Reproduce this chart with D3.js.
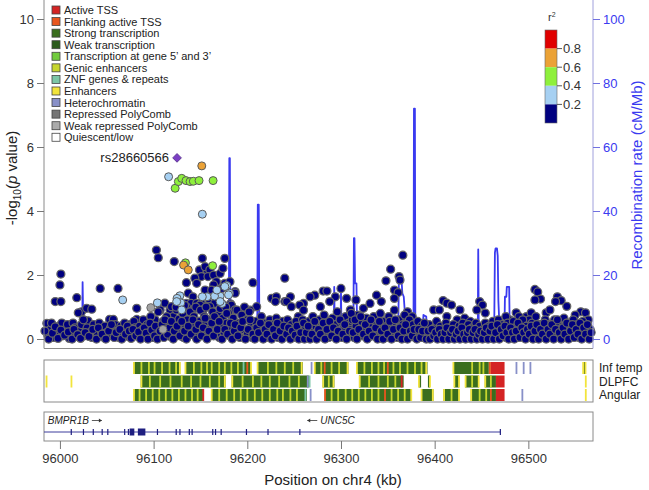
<!DOCTYPE html>
<html><head><meta charset="utf-8">
<script src="https://cdn.jsdelivr.net/npm/d3@7"></script>
<style>body{margin:0;background:#fff}svg{display:block;font-family:"Liberation Sans",Arial,sans-serif}</style>
</head><body><svg id="c" width="649" height="490"></svg>
<script>
// ---------------- DATA ----------------
const yTicks = [0, 2, 4, 6, 8, 10];
const recombTicks = [0, 20, 40, 60, 80, 100];
const xTicks = [96000, 96100, 96200, 96300, 96400, 96500];
const r2Labels = ["0.8", "0.6", "0.4", "0.2"];
const r2Colors = ["#e00000", "#eba236", "#8ef03c", "#a6d0f2", "#000080"]; // 0.8-1, 0.6-0.8, 0.4-0.6, 0.2-0.4, <0.2

const stateNames = ["Active TSS", "Flanking active TSS", "Strong transcription", "Weak transcription",
  "Transcription at gene 5\u2019 and 3\u2019", "Genic enhancers", "ZNF genes & repeats", "Enhancers",
  "Heterochromatin", "Repressed PolyComb", "Weak repressed PolyComb", "Quiescent/low"];
const stateKeys = ["TssA", "TssFlnk", "Tx", "TxWk", "TxFlnk", "EnhG", "ZNF", "Enh", "Het", "ReprPC", "ReprPCWk", "Quies"];
const stateColors = ["#d42424", "#e8561e", "#3a6e1e", "#2b5a1c", "#72cc3e", "#c6d62e", "#7cc6a6", "#f2e43c", "#8890c8", "#767676", "#ababab", "#ffffff"];

const leadSnp = { name: "rs28660566", pos: 96125, logp: 5.66 };
const snpOrange = [[96151.4, 5.41], [96132, 2.31], [96137, 2.16]];
const snpGreen = [[96123, 4.71], [96126.4, 4.92], [96130, 5.02], [96134.6, 4.95], [96138.9, 4.92], [96142.4, 4.93],
  [96148.5, 4.95], [96163.5, 4.95], [96134, 2.38], [96163, 2.29]];
const snpLightBlue = [[96116, 5.07], [96152, 3.9], [96178, 1.67], [96181, 1.43], [96171, 1.34], [96165, 1.34],
  [96157, 1.32], [96152, 1.32], [96128, 1.35], [96125, 1.27], [96129, 1.13], [96130, 0.91], [96104, 1.13],
  [96173, 1.11], [96067, 1.22], [96176, 1.64], [96167.5, 1.53], [96171, 1.17], [96124.6, 1.17], [96180, 1.38]];
const snpGray = [[96097, 0.98], [96110, 0.3]];
const snpNavy = [
  // upper scattered
  [96001, 2.03], [96000, 1.69], [95995, 1.17], [96001, 1.17], [96018, 1.29], [96043, 1.58], [96062, 1.58],
  [96103, 2.78], [96105, 2.54], [96122, 2.42], [96152, 2.52], [96176, 2.52], [96149, 2.16], [96157, 2.16],
  [96155, 2.26], [96160, 2.16], [96151, 1.95], [96158, 1.95], [96144, 1.9], [96146, 1.74], [96164, 2.0],
  [96171, 2.05], [96174, 2.21], [96167, 1.79], [96176, 1.74], [96164, 1.69], [96173, 1.58], [96135, 1.76],
  [96187, 1.48], [96206, 1.76], [96240, 1.9], [96137, 1.43], [96142, 1.32], [96155, 1.53], [96162, 1.53],
  [96181.5, 1.79], [96187, 1.43],
  [96366, 2.62], [96353, 2.18], [96348, 1.82], [96362, 1.95], [96363, 1.84], [96357, 1.53], [96361, 1.45],
  [96357, 1.27], [96300, 1.58], [96281, 1.5], [96285, 1.5], [96272, 1.37], [96294, 1.32], [96288, 1.17],
  [96278, 1.01], [96306, 1.27], [96310, 0.91], [96316, 1.22], [96324, 0.96], [96331, 1.11], [96338, 1.37],
  [96343, 1.17], [96267, 1.32], [96260, 1.11], [96226, 1.27], [96231, 1.32], [96240, 1.17], [96246, 1.32],
  [96230, 1.17], [96242, 1.17], [96247, 1.01], [96256, 1.06], [96260, 0.9], [96254.5, 0.7], [96210, 1.01],
  [96203, 0.9], [96196, 0.85],
  [96507, 1.55], [96510, 1.47], [96513, 1.25], [96507, 1.22], [96531, 1.32], [96535, 1.2], [96529, 1.17],
  [96541, 1.02], [96556, 0.85], [96561, 0.82], [96550, 0.75], [96564, 0.6], [96498, 0.7], [96503, 0.82],
  [96501, 0.6], [96487, 0.82], [96490, 0.7], [96480, 0.6], [96476, 0.7], [96519, 0.82], [96523, 0.91],
  [96409, 1.2], [96413, 1.12], [96418, 1.06], [96399, 0.91], [96405, 0.91], [96413, 0.7], [96424, 0.6],
  [96427, 0.91], [96432, 0.65], [96438, 0.55], [96448, 1.17], [96451, 1.06], [96454, 0.81], [96445, 0.91],
  [96371, 0.85], [96376, 0.7], [96369, 0.6],
  // mid-level band
  [96023, 0.85], [96028.5, 0.96], [96034, 0.93], [96019.6, 0.82], [96030, 0.57], [96025, 0.6], [96053, 0.61],
  [96057, 0.61], [96082, 0.96], [96082, 0.61], [96101.5, 0.6], [96107, 0.91], [96112, 1.12], [96117.5, 0.91],
  [96121, 0.7], [96114, 0.7], [96135, 1.11], [96140, 1.11], [96146, 1.11], [96151, 1.11], [96159.5, 1.11],
  [96165, 1.11], [96182, 1.1], [96119, 1.01], [96124.5, 0.91], [96135, 1.01], [96139, 0.85], [96144, 0.96],
  [96149.5, 1.06], [96153, 0.91], [96156.6, 1.01], [96160, 1.01], [96183, 1.06], [96187, 0.91],
  // dense low band
  [95986, 0.49], [95987, 0.12], [95990, 0.3], [95991, 0.5], [95993, 0.05], [95996, 0.22], [95999, 0.4],
  [96002, 0.5], [96003, 0.1], [96006, 0.3], [96008, 0.45], [96010, 0.02], [96012, 0.2], [96014, 0.5],
  [96016, 0.35], [96018, 0.08], [96021, 0.25], [96023, 0.45], [96025, 0.6], [96026, 0.1], [96029, 0.35],
  [96032, 0.2], [96034, 0.05], [96036, 0.45], [96038, 0.3], [96040, 0.12], [96042, 0.5], [96044, 0.25],
  [96047, 0.05], [96048, 0.4], [96050, 0.2], [96054, 0.35], [96056, 0.1], [96059, 0.45], [96061, 0.25],
  [96063, 0.05], [96065, 0.4], [96067, 0.18], [96069, 0.5], [96071, 0.3], [96073, 0.08], [96075, 0.45],
  [96077, 0.2], [96079, 0.55], [96080, 0.35], [96083, 0.12], [96085, 0.4], [96087, 0.25],
  [96088, 0.3], [96089, 0.6], [96091, 0.1], [96093, 0.45], [96095, 0.25], [96097, 0.7], [96099, 0.05],
  [96100, 0.4], [96103, 0.2], [96105, 0.85], [96106, 0.35], [96108, 0.12], [96110, 0.55], [96113, 0.28],
  [96116, 0.45], [96118, 0.08], [96120, 0.3], [96123, 0.5], [96124, 1.0], [96126, 0.2], [96127, 0.62],
  [96129, 0.4], [96131, 0.8], [96132, 0.05], [96133, 1.05], [96134, 0.35], [96136, 0.6], [96138, 0.2],
  [96139, 0.85], [96141, 0.45], [96143, 0.7], [96144, 0.1], [96145, 1.0], [96147, 0.3], [96149, 0.55],
  [96150, 0.9], [96152, 0.2], [96154, 0.7], [96155, 0.45], [96156, 1.0], [96158, 0.1], [96160, 0.6],
  [96161, 0.35], [96163, 0.85], [96166, 0.25], [96167, 0.5], [96169, 0.75], [96170, 0.05], [96171, 0.95],
  [96172, 0.4], [96174, 0.65], [96175, 0.2], [96177, 1.0], [96178, 0.5], [96180, 0.8], [96181, 0.1],
  [96183, 0.35], [96185, 0.65], [96188, 0.2], [96189, 0.9], [96191, 0.5], [96192, 0.05], [96194, 0.75],
  [96196, 0.3], [96197, 1.0], [96199, 0.6], [96200, 0.15], [96202, 0.85], [96204, 0.4], [96205, 0.05],
  [96207, 0.3], [96209, 0.55], [96211, 0.1], [96213, 0.4], [96215, 0.7], [96216, 0.2], [96218, 0.5],
  [96220, 0.05], [96222, 0.35], [96224, 0.6], [96225, 0.15], [96227, 0.45], [96229, 0.25], [96231, 0.65],
  [96233, 0.05], [96234, 0.4], [96236, 0.2], [96238, 0.55], [96240, 0.1], [96241, 0.35], [96243, 0.6],
  [96245, 0.2], [96247, 0.45], [96249, 0.05], [96250, 0.3], [96252, 0.55], [96254, 0.15], [96256, 0.4],
  [96258, 0.25], [96259, 0.6],
  [96262, 0.35], [96264, 0.1], [96266, 0.55], [96268, 0.25], [96270, 0.7], [96271, 0.05], [96273, 0.4],
  [96275, 0.2], [96277, 0.6], [96279, 0.08], [96280, 0.35], [96282, 0.75], [96284, 0.2], [96286, 0.5],
  [96287, 0.05], [96289, 0.3], [96291, 0.65], [96293, 0.12], [96294, 0.45], [96296, 0.85], [96298, 0.25],
  [96300, 0.55], [96301, 0.05], [96303, 0.35], [96305, 0.7], [96307, 0.15], [96308, 0.5], [96310, 0.3],
  [96312, 0.6], [96314, 0.05], [96316, 0.4], [96318, 0.75], [96320, 0.2], [96322, 0.55], [96323, 0.1],
  [96325, 0.35], [96327, 0.65], [96329, 0.05], [96331, 0.45], [96333, 0.25], [96335, 0.7], [96336, 0.1],
  [96338, 0.5], [96340, 0.3], [96342, 0.8], [96344, 0.15], [96346, 0.55], [96348, 0.05], [96349, 0.4],
  [96351, 0.7], [96353, 0.2], [96355, 0.5], [96357, 0.9], [96359, 0.3], [96360, 0.05], [96362, 0.6],
  [96364, 0.2], [96366, 0.45], [96368, 0.75], [96370, 0.1], [96372, 0.35], [96373, 0.6], [96375, 0.15],
  [96377, 0.45], [96379, 0.05], [96380, 0.3], [96382, 0.55], [96384, 0.15], [96386, 0.4], [96388, 0.05],
  [96390, 0.3], [96392, 0.1], [96394, 0.45], [96396, 0.2], [96398, 0.05], [96400, 0.35], [96402, 0.55],
  [96404, 0.15], [96406, 0.4], [96408, 0.05], [96410, 0.3], [96412, 0.5], [96414, 0.15], [96416, 0.35],
  [96418, 0.05], [96420, 0.45], [96422, 0.25], [96424, 0.1], [96426, 0.4], [96428, 0.2], [96430, 0.5],
  [96432, 0.05], [96434, 0.3], [96436, 0.45], [96438, 0.15], [96440, 0.35], [96442, 0.05], [96444, 0.5],
  [96446, 0.25], [96448, 0.4], [96450, 0.1],
  [96452, 0.3], [96454, 0.5], [96456, 0.1], [96458, 0.4], [96460, 0.2], [96462, 0.55], [96464, 0.05],
  [96466, 0.35], [96468, 0.6], [96470, 0.15], [96472, 0.45], [96474, 0.25], [96476, 0.05], [96478, 0.5],
  [96480, 0.3], [96482, 0.1], [96484, 0.55], [96486, 0.35], [96488, 0.05], [96490, 0.45], [96492, 0.2],
  [96494, 0.6], [96496, 0.1], [96498, 0.4], [96500, 0.25], [96502, 0.05], [96504, 0.5], [96506, 0.3],
  [96508, 0.7], [96510, 0.15], [96512, 0.45], [96514, 0.05], [96516, 0.35], [96518, 0.6], [96520, 0.2],
  [96522, 0.45], [96524, 0.05], [96526, 0.3], [96528, 0.6], [96530, 0.15], [96532, 0.45], [96534, 0.05],
  [96536, 0.35], [96538, 0.65], [96540, 0.2], [96542, 0.5], [96544, 0.05], [96546, 0.35], [96548, 0.6],
  [96550, 0.15], [96552, 0.45], [96554, 0.05], [96556, 0.3], [96558, 0.55], [96560, 0.2], [96562, 0.4],
  [96564, 0.05], [96566, 0.3],
  // second layer of the low band
  [95984, 0.25], [95988, 0.0], [95992, 0.18], [95995, 0.38], [95998, 0.02], [96001, 0.28], [96005, 0.12], [96009, 0.22],
  [96013, 0.0], [96015, 0.3], [96019, 0.14], [96022, 0.02], [96027, 0.2], [96031, 0.08], [96035, 0.3], [96039, 0.0],
  [96041, 0.35], [96045, 0.15], [96049, 0.0], [96052, 0.25], [96055, 0.45], [96058, 0.05], [96060, 0.2], [96064, 0.3],
  [96066, 0.0], [96070, 0.15], [96072, 0.4], [96074, 0.25], [96076, 0.02], [96078, 0.3], [96081, 0.1], [96084, 0.22],
  [96086, 0.0], [96090, 0.35], [96092, 0.18], [96094, 0.0], [96096, 0.5], [96098, 0.28], [96101, 0.1], [96102, 0.4],
  [96104, 0.0], [96107, 0.25], [96109, 0.45], [96111, 0.05], [96112, 0.6], [96115, 0.15], [96117, 0.35], [96119, 0.55],
  [96121, 0.0], [96122, 0.25], [96125, 0.4], [96128, 0.1], [96130, 0.55], [96133, 0.25], [96135, 0.0], [96137, 0.4],
  [96140, 0.15], [96142, 0.6], [96145, 0.3], [96146, 0.0], [96148, 0.45], [96151, 0.1], [96153, 0.35], [96155, 0.65],
  [96157, 0.0], [96159, 0.25], [96162, 0.5], [96164, 0.1], [96165, 0.7], [96168, 0.3], [96170, 0.55], [96173, 0.0],
  [96176, 0.3], [96178, 0.8], [96179, 0.15], [96182, 0.5], [96184, 0.0], [96186, 0.25], [96187, 0.45], [96190, 0.1],
  [96193, 0.35], [96195, 0.55], [96198, 0.0], [96201, 0.3], [96203, 0.6], [96206, 0.15], [96208, 0.0], [96210, 0.35],
  [96212, 0.2], [96214, 0.5], [96217, 0.0], [96219, 0.3], [96221, 0.15], [96223, 0.45], [96226, 0.0], [96228, 0.3],
  [96230, 0.1], [96232, 0.5], [96235, 0.25], [96237, 0.0], [96239, 0.4], [96242, 0.15], [96244, 0.35], [96246, 0.0],
  [96248, 0.25], [96251, 0.12], [96253, 0.4], [96255, 0.0], [96257, 0.2], [96260, 0.5], [96261, 0.0], [96263, 0.2],
  [96265, 0.4], [96267, 0.0], [96269, 0.15], [96272, 0.55], [96274, 0.0], [96276, 0.3], [96278, 0.15], [96281, 0.5],
  [96283, 0.0], [96285, 0.3], [96288, 0.55], [96290, 0.1], [96292, 0.35], [96295, 0.0], [96297, 0.25], [96299, 0.6],
  [96302, 0.15], [96304, 0.45], [96306, 0.0], [96309, 0.25], [96311, 0.8], [96313, 0.2], [96315, 0.6], [96317, 0.0],
  [96319, 0.3], [96321, 0.7], [96324, 0.15], [96326, 0.45], [96328, 0.0], [96330, 0.25], [96332, 0.6], [96334, 0.1],
  [96337, 0.35], [96339, 0.0], [96341, 0.55], [96343, 0.25], [96345, 0.0], [96347, 0.35], [96350, 0.15], [96352, 0.55],
  [96354, 0.0], [96356, 0.3], [96358, 0.6], [96361, 0.1], [96363, 0.35], [96365, 0.0], [96367, 0.25], [96369, 0.45],
  [96371, 0.0], [96374, 0.25], [96376, 0.1], [96378, 0.3], [96381, 0.0], [96383, 0.3], [96385, 0.05], [96387, 0.25],
  [96389, 0.5], [96391, 0.0], [96393, 0.25], [96395, 0.0], [96397, 0.3], [96399, 0.1], [96401, 0.2], [96403, 0.0],
  [96405, 0.3], [96407, 0.15], [96409, 0.0], [96411, 0.2], [96413, 0.35], [96415, 0.0], [96417, 0.2], [96419, 0.3],
  [96421, 0.0], [96423, 0.15], [96425, 0.25], [96427, 0.0], [96429, 0.35], [96431, 0.15], [96433, 0.0], [96435, 0.2],
  [96437, 0.3], [96439, 0.0], [96441, 0.2], [96443, 0.3], [96445, 0.0], [96447, 0.15], [96449, 0.25], [96451, 0.0],
  [96453, 0.2], [96455, 0.35], [96457, 0.0], [96459, 0.25], [96461, 0.4], [96463, 0.0], [96465, 0.2], [96467, 0.45],
  [96469, 0.0], [96471, 0.3], [96473, 0.1], [96475, 0.4], [96477, 0.2], [96479, 0.0], [96481, 0.35], [96483, 0.2],
  [96485, 0.0], [96487, 0.25], [96489, 0.5], [96491, 0.05], [96493, 0.35], [96495, 0.2], [96497, 0.0], [96499, 0.3],
  [96501, 0.15], [96503, 0.4], [96505, 0.0], [96507, 0.25], [96509, 0.45], [96511, 0.0], [96513, 0.3], [96515, 0.15],
  [96517, 0.5], [96519, 0.0], [96521, 0.3], [96523, 0.15], [96525, 0.45], [96527, 0.0], [96529, 0.3], [96531, 0.6],
  [96533, 0.2], [96535, 0.0], [96537, 0.35], [96539, 0.15], [96541, 0.5], [96543, 0.0], [96545, 0.25], [96547, 0.45],
  [96549, 0.05], [96551, 0.3], [96553, 0.15], [96555, 0.5], [96557, 0.0], [96559, 0.35], [96561, 0.15], [96563, 0.45],
  [96565, 0.0], [96567, 0.2]
];

// recombination rate (kb, cM/Mb)
const recombPos = [95983, 96010, 96023.8, 96024.2, 96025, 96026, 96080, 96130, 96132, 96160, 96175, 96180.3, 96180.8, 96181.4, 96182,
  96195, 96198.8, 96199.3, 96200, 96210.6, 96211.2, 96212.2, 96212.8, 96213.6, 96230, 96280, 96292.3, 96292.8, 96293.4,
  96299.5, 96300, 96300.6, 96313.2, 96313.8, 96314.4, 96315, 96316.5, 96317, 96318, 96345, 96361, 96361.8, 96364.5,
  96365.5, 96367, 96368, 96370, 96371, 96377.4, 96377.9, 96378.9, 96379.4, 96387, 96388, 96391, 96392, 96440, 96446,
  96446.5, 96447.1, 96463.5, 96464.3, 96465, 96466.5, 96467.3, 96468, 96469, 96474.5, 96475, 96476.5, 96477, 96479.5,
  96480, 96481, 96520, 96569];
const recombRate = [0.6, 0.6, 0.7, 17.8, 3, 0.7, 0.6, 0.8, 1.8, 1.2, 0.6, 0.8, 56.5, 56.5, 1.5,
  1.2, 1.2, 2.8, 1.2, 1.0, 42, 42, 7, 1.0, 0.8, 1.0, 1.2, 16.3, 1.5,
  1.5, 14.8, 1.5, 1.5, 31.5, 31.5, 17.4, 17.4, 8, 2, 1.5, 1.5, 18.4, 19,
  14.3, 13.2, 9, 8, 1.5, 1.2, 72, 72, 1.0, 1.0, 7.5, 7, 1.0, 1.2, 1.2,
  28, 1.5, 1.5, 27, 28.3, 28.3, 26, 12, 5, 3, 13.2, 13.2, 16.3, 16.3,
  6, 2, 1.5, 1.2];

// chromatin states: blocks [start, end, state] and thin stripes [pos, state]
const trackNames = ["Inf temp", "DLPFC", "Angular"];
const infTempBlocks = [[96078.6, 96128.4, "Tx"], [96133.5, 96204.3, "Tx"], [96210.7, 96259.2, "Tx"], [96271.2, 96307.9, "Tx"],
  [96316.2, 96392.3, "Tx"], [96419.8, 96457.8, "Tx"], [96457.8, 96460, "TssFlnk"], [96460, 96474.6, "TssA"], [96558.3, 96561.3, "TxWk"]];
const infTempStripes = [[96079, "Enh"], [96087, "EnhG"], [96095, "EnhG"], [96101, "EnhG"], [96109, "EnhG"], [96117, "EnhG"],
  [96124, "EnhG"], [96128, "Enh"], [96134, "Enh"], [96143, "EnhG"], [96151, "EnhG"], [96157, "EnhG"], [96162, "EnhG"],
  [96170, "EnhG"], [96176, "EnhG"], [96183, "EnhG"], [96190, "EnhG"], [96196, "ZNF"], [96200, "TssFlnk"], [96204, "Enh"],
  [96211, "Enh"], [96222, "EnhG"], [96231, "EnhG"], [96240, "EnhG"], [96249, "EnhG"], [96258, "Enh"], [96268.6, "Het"],
  [96272, "Enh"], [96279, "EnhG"], [96282.6, "TssFlnk"], [96290, "EnhG"], [96298, "EnhG"], [96307, "Enh"], [96317, "Enh"],
  [96325, "EnhG"], [96333, "EnhG"], [96340, "EnhG"], [96346, "EnhG"], [96350, "TssFlnk"], [96356, "EnhG"], [96363, "EnhG"],
  [96371, "EnhG"], [96379, "EnhG"], [96386, "EnhG"], [96391, "Enh"], [96420, "Enh"], [96440, "EnhG"], [96448, "EnhG"],
  [96452, "EnhG"], [96487.3, "Het"], [96495, "Het"], [96502.2, "Het"], [96558.5, "Enh"], [96561, "Enh"]];
const dlpfcBlocks = [[96086.2, 96176.9, "Tx"], [96183.3, 96265.7, "Tx"], [96280.4, 96293, "Tx"], [96319.2, 96366.9, "Tx"],
  [96383, 96385.5, "Tx"], [96392.8, 96395, "Tx"], [96420.6, 96426.2, "Tx"], [96432.5, 96447.2, "Tx"],
  [96453.5, 96465.4, "Tx"], [96465.4, 96474.6, "TssA"]];
const dlpfcStripes = [[95985.7, "Enh"], [96012.3, "Enh"], [96087, "Enh"], [96096, "EnhG"], [96107, "EnhG"], [96118, "EnhG"],
  [96130, "EnhG"], [96140, "EnhG"], [96150, "EnhG"], [96160, "EnhG"], [96170, "EnhG"], [96176, "Enh"], [96184, "Enh"],
  [96195, "EnhG"], [96206, "EnhG"], [96215, "EnhG"], [96224, "EnhG"], [96234, "EnhG"], [96245, "EnhG"], [96255, "EnhG"],
  [96264.5, "Het"], [96266.5, "ZNF"], [96281, "Enh"], [96287, "EnhG"], [96292, "Enh"], [96320, "Enh"], [96330, "EnhG"],
  [96340, "EnhG"], [96350, "EnhG"], [96358, "EnhG"], [96364.8, "TssA"], [96383.2, "Enh"], [96395, "Enh"], [96421, "Enh"],
  [96426, "Enh"], [96433, "Enh"], [96440, "EnhG"], [96447, "Enh"], [96454, "Enh"], [96460, "EnhG"], [96561.3, "Enh"]];
const angularBlocks = [[96078.6, 96153.7, "Tx"], [96161.3, 96263.5, "Tx"], [96282.6, 96375.4, "Tx"], [96386, 96398.7, "Tx"],
  [96409.2, 96426.2, "Tx"], [96438.6, 96465.4, "Tx"], [96465.4, 96474.6, "TssA"]];
const angularStripes = [[96079, "Enh"], [96085, "EnhG"], [96092, "EnhG"], [96099, "EnhG"], [96106, "EnhG"], [96113, "EnhG"],
  [96120, "EnhG"], [96127, "EnhG"], [96134, "EnhG"], [96141, "EnhG"], [96147, "EnhG"], [96153, "TssA"], [96162, "Enh"],
  [96170, "EnhG"], [96178, "EnhG"], [96186, "EnhG"], [96193, "EnhG"], [96200, "EnhG"], [96208, "EnhG"], [96216, "EnhG"],
  [96224, "EnhG"], [96232, "EnhG"], [96238, "EnhG"], [96246, "EnhG"], [96253, "EnhG"], [96262, "ZNF"], [96267.6, "Het"],
  [96283, "TssFlnk"], [96290, "EnhG"], [96297, "EnhG"], [96305, "EnhG"], [96312, "EnhG"], [96319, "EnhG"], [96326, "EnhG"],
  [96333, "EnhG"], [96340, "EnhG"], [96347, "TssFlnk"], [96354, "EnhG"], [96361, "EnhG"], [96368, "EnhG"], [96375, "Enh"],
  [96386, "Enh"], [96398, "Enh"], [96410, "Enh"], [96418, "EnhG"], [96426, "Enh"], [96439, "Enh"], [96448, "EnhG"],
  [96455, "EnhG"], [96460, "TssFlnk"], [96493.6, "Het"], [96561.3, "Enh"]];

// genes
const geneSpan = [95983, 96470];
const exonStarts = [96012, 96025, 96035.5, 96045, 96051, 96069, 96073, 96104, 96124, 96128, 96138, 96141, 96163, 96166, 96172, 96199, 96222, 96256, 96470];
const exonBlocks = [[96074.4, 96079.4], [96083.2, 96091.2]];
const geneLabels = [{ name: "BMPR1B", pos: 95987, dir: 1 }, { name: "UNC5C", pos: 96264, dir: -1 }];

// ---------------- DRAW ----------------
const svg = d3.select("#c");
const x = d3.scaleLinear().domain([95983, 96569]).range([44, 593]);
const y = d3.scaleLinear().domain([0, 10]).range([339, 19]);
const yR = d3.scaleLinear().domain([0, 100]).range([339, 19]);
const FONT = '"Liberation Sans", Arial, sans-serif';
const BLUE = "#3a3af0";
const colorOf = Object.fromEntries(stateKeys.map((k, i) => [k, stateColors[i]]));

// recombination line
svg.append("path")
  .datum(recombPos.map((p, i) => [p, recombRate[i]]))
  .attr("fill", "none").attr("stroke", BLUE).attr("stroke-width", 1.8).attr("stroke-linejoin", "round")
  .attr("d", d3.line().x(d => x(d[0])).y(d => yR(d[1])));

// points
function dots(data, fill, stroke, sw) {
  svg.append("g").selectAll("circle").data(data).join("circle")
    .attr("cx", d => x(d[0])).attr("cy", d => y(d[1])).attr("r", 4)
    .attr("fill", fill).attr("stroke", stroke).attr("stroke-width", sw);
}
dots(snpNavy, r2Colors[4], "#666666", 1.25);
dots(snpGray, "#a2a2a2", "#6a6a6a", 1);
dots(snpLightBlue, r2Colors[3], "#5a5a5a", 1);
dots(snpGreen, r2Colors[2], "#5a5a5a", 1);
dots(snpOrange, r2Colors[1], "#5a5a5a", 1);
svg.append("path")
  .attr("d", d3.symbol(d3.symbolSquare, 38)())
  .attr("transform", `translate(${x(leadSnp.pos)},${y(leadSnp.logp)}) rotate(45)`)
  .attr("fill", "#7b3ec4").attr("stroke", "#55308a").attr("stroke-width", 0.8);
svg.append("text").attr("x", x(leadSnp.pos) - 8).attr("y", y(leadSnp.logp)).attr("dy", "0.35em")
  .attr("text-anchor", "end").attr("font-size", 13).attr("fill", "#222").text(leadSnp.name);

// frame lines
svg.append("line").attr("x1", 44).attr("x2", 44).attr("y1", 0).attr("y2", 348.5).attr("stroke", "#8a8a8a");
svg.append("line").attr("x1", 44).attr("x2", 593).attr("y1", 348.5).attr("y2", 348.5).attr("stroke", "#8a8a8a");
svg.append("line").attr("x1", 593).attr("x2", 593).attr("y1", 0).attr("y2", 348.5).attr("stroke", "#a0a0dc");

// left axis
const gL = svg.append("g").attr("transform", "translate(44,0)")
  .call(d3.axisLeft(y).tickValues(yTicks).tickSize(7).tickPadding(3));
gL.select(".domain").remove();
gL.selectAll("line").attr("stroke", "#777");
gL.selectAll("text").attr("font-size", 13).attr("font-family", FONT).attr("fill", "#333");
// right axis
const gR = svg.append("g").attr("transform", "translate(593,0)")
  .call(d3.axisRight(yR).tickValues(recombTicks).tickSize(7).tickPadding(3));
gR.select(".domain").remove();
gR.selectAll("line").attr("stroke", "#7070e0");
gR.selectAll("text").attr("font-size", 13).attr("font-family", FONT).attr("fill", BLUE);

// axis titles
const lt = svg.append("text").attr("transform", "translate(12,178) rotate(-90)").attr("text-anchor", "middle")
  .attr("dy", "0.35em").attr("font-size", 15).attr("fill", "#222");
lt.append("tspan").text("-log");
lt.append("tspan").attr("font-size", 10).attr("dy", 4).text("10");
lt.append("tspan").attr("dy", -4).text("(");
lt.append("tspan").attr("font-style", "italic").text("p");
lt.append("tspan").text(" value)");
svg.append("text").attr("transform", "translate(637,175) rotate(-90)").attr("text-anchor", "middle")
  .attr("dy", "0.35em").attr("font-size", 15).attr("fill", BLUE).text("Recombination rate (cM/Mb)");

// chromatin legend
const lg = svg.append("g");
stateNames.forEach((nm, i) => {
  const cy = 10 + i * 11.57;
  lg.append("rect").attr("x", 52).attr("y", cy - 4).attr("width", 8).attr("height", 8)
    .attr("fill", stateColors[i]).attr("stroke", "#444").attr("stroke-width", 0.8);
  lg.append("text").attr("x", 64).attr("y", cy).attr("dy", "0.36em").attr("font-size", 11).attr("fill", "#222").text(nm);
});

// r2 legend
const r2 = svg.append("g");
const r2y = d3.scaleLinear().domain([1, 0]).range([30, 123]);
r2Colors.forEach((c, i) => {
  r2.append("rect").attr("x", 545).attr("y", r2y(1 - i * 0.2)).attr("width", 12)
    .attr("height", r2y(0.8 - i * 0.2) - r2y(1 - i * 0.2)).attr("fill", c);
});
r2.append("rect").attr("x", 545).attr("y", 30).attr("width", 12).attr("height", 93).attr("fill", "none").attr("stroke", "#666").attr("stroke-width", 0.6);
r2Labels.forEach(l => {
  const yy = r2y(+l);
  r2.append("line").attr("x1", 557).attr("x2", 562).attr("y1", yy).attr("y2", yy).attr("stroke", "#555");
  r2.append("text").attr("x", 563).attr("y", yy).attr("dy", "0.35em").attr("font-size", 13).attr("fill", "#333").text(l);
});
const r2t = r2.append("text").attr("x", 548).attr("y", 21).attr("font-size", 11).attr("fill", "#333");
r2t.append("tspan").text("r");
r2t.append("tspan").attr("font-size", 7).attr("dy", -4).text("2");

// chromatin tracks
const trackTop = 360, trackBottom = 402;
const rowTops = [362, 375.5, 389], rowH = 12;
const rows = [[infTempBlocks, infTempStripes], [dlpfcBlocks, dlpfcStripes], [angularBlocks, angularStripes]];
const tg = svg.append("g");
rows.forEach(([blocks, stripes], r) => {
  tg.append("g").selectAll("rect").data(blocks).join("rect")
    .attr("x", d => x(d[0])).attr("width", d => x(d[1]) - x(d[0]))
    .attr("y", rowTops[r]).attr("height", rowH).attr("fill", d => colorOf[d[2]]);
  tg.append("g").selectAll("rect").data(stripes).join("rect")
    .attr("x", d => x(d[0]) - 0.9).attr("width", 1.8)
    .attr("y", rowTops[r]).attr("height", rowH).attr("fill", d => colorOf[d[1]]);
  tg.append("text").attr("x", 599).attr("y", rowTops[r] + rowH / 2).attr("dy", "0.35em")
    .attr("font-size", 12).attr("fill", "#222").text(trackNames[r]);
});
tg.append("rect").attr("x", 44).attr("y", trackTop).attr("width", 549).attr("height", trackBottom - trackTop)
  .attr("fill", "none").attr("stroke", "#8a8a8a");

// gene track
const gTop = 412, gBot = 441, gLine = 432;
const gg = svg.append("g");
gg.append("rect").attr("x", 44).attr("y", gTop).attr("width", 549).attr("height", gBot - gTop)
  .attr("fill", "none").attr("stroke", "#8a8a8a");
gg.append("line").attr("x1", x(geneSpan[0])).attr("x2", x(geneSpan[1])).attr("y1", gLine).attr("y2", gLine)
  .attr("stroke", "#3c3c9c").attr("stroke-width", 1);
gg.selectAll(".ex").data(exonStarts).join("rect").attr("class", "ex")
  .attr("x", d => x(d) - 0.5).attr("width", 1.2).attr("y", gLine - 3).attr("height", 6).attr("fill", "#1e1e80");
gg.selectAll(".exb").data(exonBlocks).join("rect").attr("class", "exb")
  .attr("x", d => x(d[0])).attr("width", d => x(d[1]) - x(d[0])).attr("y", gLine - 3.5).attr("height", 7).attr("fill", "#1e1e80");
geneLabels.forEach(g => {
  const tx = g.dir > 0 ? x(g.pos) : x(g.pos) + 13;
  const t = gg.append("text").attr("x", tx).attr("y", gLine - 8).attr("font-size", 10).attr("font-style", "italic")
    .attr("fill", "#222").text(g.name);
  const w = t.node().getComputedTextLength();
  const ay = gLine - 11.5;
  const ax0 = g.dir > 0 ? tx + w + 3 : tx - 3, ax1 = g.dir > 0 ? ax0 + 10 : ax0 - 10;
  gg.append("line").attr("x1", ax0).attr("x2", ax1).attr("y1", ay).attr("y2", ay).attr("stroke", "#333").attr("stroke-width", 0.8);
  gg.append("path").attr("d", `M${ax1},${ay} l${-3 * g.dir},-2 l0,4 z`).attr("fill", "#333");
});

// x axis
const gX = svg.append("g").attr("transform", `translate(0,${gBot})`)
  .call(d3.axisBottom(x).tickValues(xTicks).tickFormat(d3.format("d")).tickSize(8).tickPadding(5));
gX.select(".domain").remove();
gX.selectAll("line").attr("stroke", "#777");
gX.selectAll("text").attr("font-size", 13).attr("font-family", FONT).attr("fill", "#333");
svg.append("text").attr("x", 333).attr("y", 485).attr("text-anchor", "middle").attr("font-size", 15)
  .attr("fill", "#222").text("Position on chr4 (kb)");
</script></body></html>
